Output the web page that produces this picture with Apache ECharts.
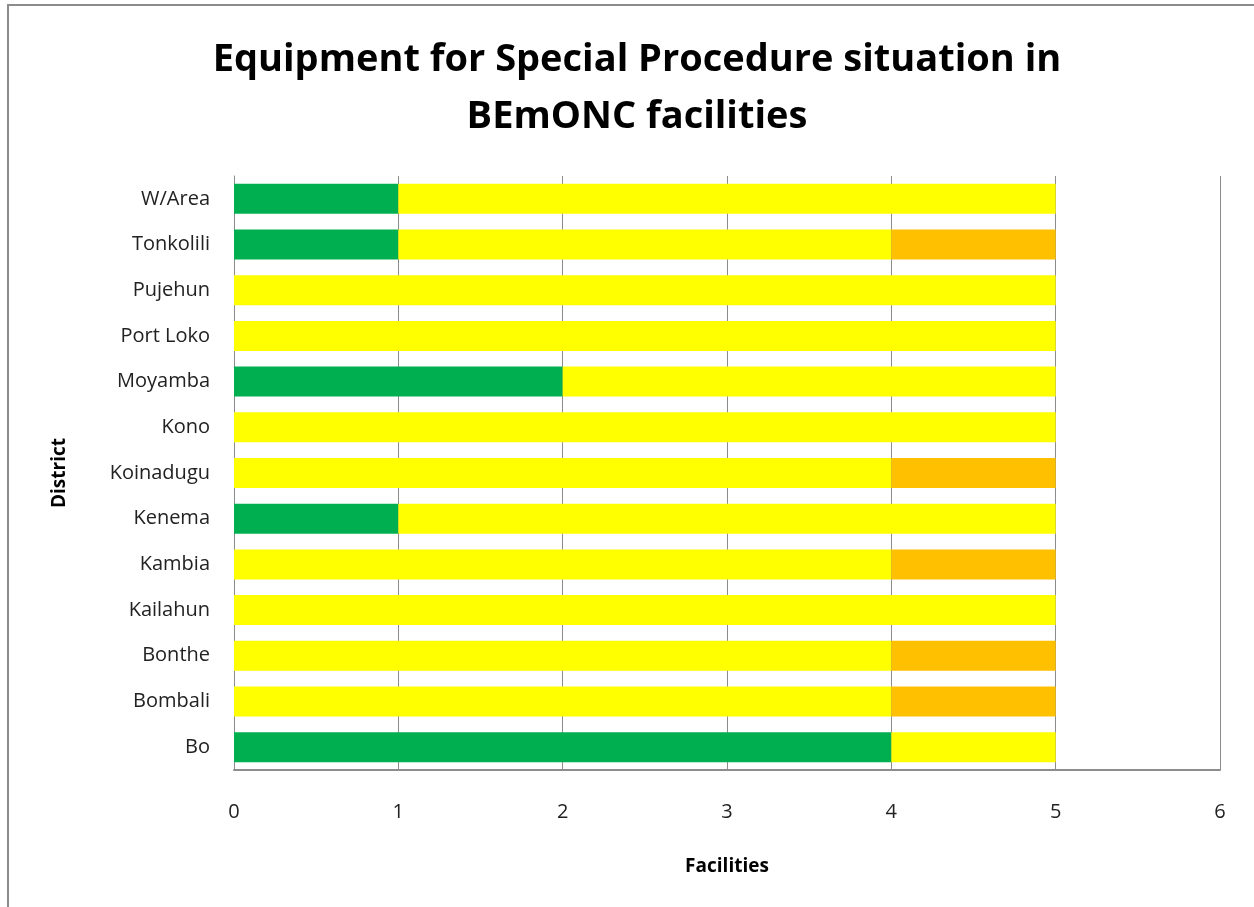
<!DOCTYPE html>
<html>
<head>
<meta charset="utf-8">
<title>Equipment for Special Procedure</title>
<script src="https://cdn.jsdelivr.net/npm/echarts@6/dist/echarts.min.js"></script>
<style>
  html, body { margin: 0; padding: 0; background: #fff; }
  #chart { width: 1254px; height: 907px; }
</style>
</head>
<body>
<div id="chart"></div>
<script>
  // 数据（从下到上）
  var districts = ['Bo', 'Bombali', 'Bonthe', 'Kailahun', 'Kambia', 'Kenema', 'Koinadugu',
    'Kono', 'Moyamba', 'Port Loko', 'Pujehun', 'Tonkolili', 'W/Area'];
  var greenValues = [4, 0, 0, 0, 0, 1, 0, 0, 2, 0, 0, 1, 1];
  var yellowValues = [1, 4, 4, 5, 4, 4, 4, 5, 3, 5, 5, 3, 4];
  var orangeValues = [0, 1, 1, 0, 1, 0, 1, 0, 0, 0, 0, 1, 0];
  var xTicks = [0, 1, 2, 3, 4, 5, 6];

  var myChart = echarts.init(document.getElementById('chart'));
  var font = '"Open Sans", Lato, sans-serif';

  function bar(name, data, color) {
    return {
      name: name,
      type: 'bar',
      stack: 'total',
      barWidth: 30,
      itemStyle: { color: color },
      data: data
    };
  }

  var option = {
    backgroundColor: '#fff',
    animation: false,
    title: {
      text: 'Equipment for Special Procedure situation in\nBEmONC facilities',
      left: 632,
      textAlign: 'center',
      top: 27,
      textStyle: {
        fontFamily: font,
        fontWeight: 'bold',
        fontSize: 38,
        lineHeight: 57,
        color: '#000'
      }
    },
    graphic: [{
      type: 'rect',
      shape: { x: 8, y: 5, width: 1400, height: 1000 },
      style: { fill: 'none', stroke: '#8c8c8c', lineWidth: 2 },
      silent: true
    }],
    grid: {
      left: 234,
      right: 34,
      top: 176,
      height: 594
    },
    xAxis: {
      type: 'value',
      min: xTicks[0],
      max: xTicks[xTicks.length - 1],
      interval: 1,
      name: 'Facilities',
      nameLocation: 'middle',
      nameGap: 87,
      nameTextStyle: { fontFamily: font, fontWeight: 'bold', fontSize: 19, color: '#000' },
      axisLine: { show: true, lineStyle: { color: '#8c8c8c', width: 2 } },
      axisTick: { show: false },
      splitLine: { show: true, lineStyle: { color: '#8c8c8c', width: 1 } },
      axisLabel: { fontFamily: font, fontSize: 20, color: '#222', margin: 32 }
    },
    yAxis: {
      type: 'category',
      data: districts,
      name: 'District',
      nameLocation: 'middle',
      nameGap: 165,
      nameRotate: 90,
      nameTextStyle: { fontFamily: font, fontWeight: 'bold', fontSize: 19, color: '#000' },
      axisLine: { show: true, lineStyle: { color: '#8c8c8c', width: 1 } },
      axisTick: { show: false },
      axisLabel: { fontFamily: font, fontSize: 20, color: '#222', margin: 24 }
    },
    series: [
      bar('Available', greenValues, '#00b050'),
      bar('Partial', yellowValues, '#ffff00'),
      bar('Not available', orangeValues, '#ffc000')
    ]
  };
  myChart.setOption(option);
</script>
</body>
</html>
